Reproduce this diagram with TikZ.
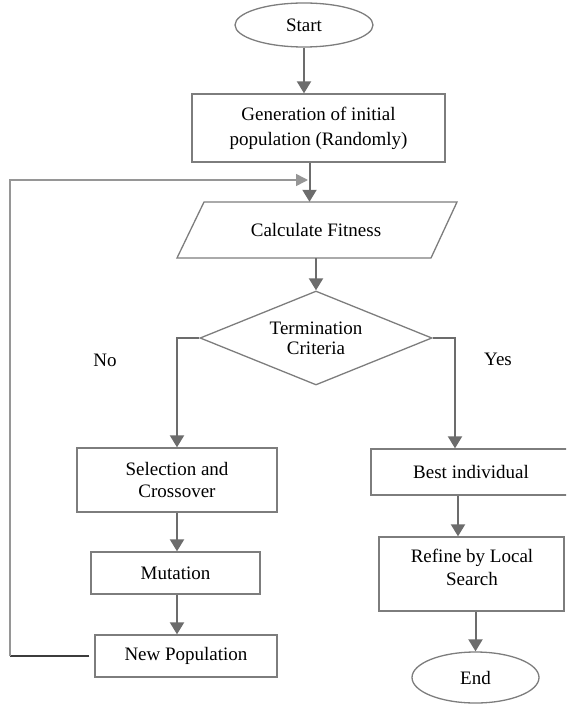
\documentclass[tikz,border=0pt]{standalone}
\usepackage{fontspec}
\setmainfont{Liberation Serif}
\usetikzlibrary{arrows.meta,shapes.geometric}
\definecolor{arrowgray}{RGB}{108,108,108}
\definecolor{boxgray}{RGB}{125,125,125}
\definecolor{fblight}{RGB}{150,150,150}
\definecolor{fbdark}{RGB}{60,60,60}
\tikzset{
  txt/.style={font=\fontsize{19}{22}\selectfont, align=center, inner sep=0pt},
  box/.style={txt, draw=boxgray, line width=1.3pt, rectangle},
  oval/.style={txt, draw=boxgray, line width=1.3pt, ellipse},
  arr/.style={draw=arrowgray, line width=2pt, -{Triangle[width=14pt,length=12pt]}},
}
\begin{document}
\begin{tikzpicture}[x=1pt,y=-1pt]
\useasboundingbox (0,0) rectangle (566,706);
\clip (0,0) rectangle (566,706);

% nodes
\node[oval, minimum width=138pt, minimum height=44pt] (start) at (304,25) {Start};
\node[box, minimum width=253pt, minimum height=68pt, font=\fontsize{19}{25}\selectfont] (gen) at (318.5,128) {Generation of initial\\population (Randomly)};
\node[txt, minimum width=254pt, minimum height=56pt] (fit) at (316,230) {Calculate Fitness};
\draw[boxgray, line width=1.3pt] (204,202) -- (457,202) -- (431,258) -- (177,258) -- cycle;
\node[txt, draw=boxgray, line width=1.3pt, diamond, aspect=2.47, minimum width=232pt, minimum height=94pt, font=\fontsize{19}{20}\selectfont] (dec) at (316,338) {Termination\\Criteria};
\node[txt] (no) at (105,360) {No};
\node[txt] (yes) at (498,359) {Yes};
\node[box, minimum width=200pt, minimum height=64pt] (sel) at (177,480) {Selection and\\Crossover};
\node[box, minimum width=169pt, minimum height=42pt] (mut) at (175.5,573) {Mutation};
\node[box, minimum width=182pt, minimum height=42pt] (newpop) at (186,656) {New Population};
\node[box, minimum width=200pt, minimum height=46pt] (best) at (471,472) {Best individual};
\node[box, minimum width=185pt, minimum height=74pt] (refine) at (471.5,574) {};
\node[txt, font=\fontsize{19}{23}\selectfont] (refinetxt) at (472,567.5) {Refine by Local\\Search};
\node[oval, minimum width=127pt, minimum height=51pt] (end) at (475.5,677.5) {End};

% connectors
\draw[arr] (start.south) -- (start.south |- gen.north);
\draw[arr] ([xshift=-9pt]gen.south) -- ([xshift=-9pt]gen.south |- fit.north);
\draw[arr] (fit.south) -- (dec.north);
\draw[arr] (dec.west) -| (sel.north);
\draw[arr] (dec.east) -| ([xshift=-16pt]best.north);
\draw[arr] (sel.south) -- (sel.south |- mut.north);
\draw[arr] (sel.south |- mut.south) -- (sel.south |- newpop.north);
\draw[arr] ([xshift=-13pt]best.south) -- ([xshift=-13pt]best.south |- refine.north);
\draw[arr] (end.north |- refine.south) -- (end.north);

% feedback loop
\coordinate (fbc) at (10,656);
\coordinate (fbt) at (10,180);
\coordinate (fbe) at (308,180);
\draw[fbdark, line width=1.6pt] ([xshift=-5pt]newpop.west) -- (fbc);
\draw[fblight, line width=1.6pt, -{Triangle[width=12pt,length=12pt]}] (fbc) -- (fbt) -- (fbe);
\end{tikzpicture}
\end{document}
